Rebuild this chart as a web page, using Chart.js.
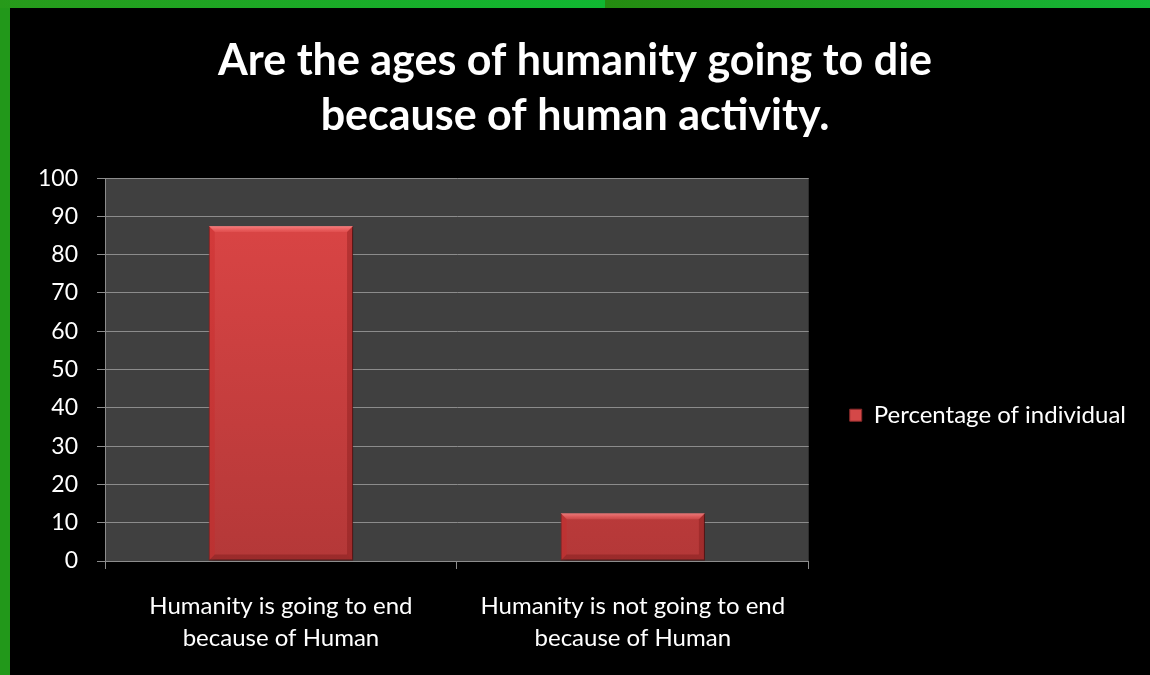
<!DOCTYPE html>
<html>
<head>
<meta charset="utf-8">
<script src="https://cdn.jsdelivr.net/npm/chart.js@4/dist/chart.umd.min.js"></script>
<style>
  html, body { margin: 0; padding: 0; background: #000; width: 1150px; height: 675px; overflow: hidden; }
  #wrap { position: absolute; left: 0; top: 0; width: 1150px; height: 675px; }
  .bl { position: absolute; left: 0; top: 0; width: 10px; height: 675px; background: #22981a; }
  .bt1 { position: absolute; left: 0; top: 0; width: 605px; height: 8px; background: linear-gradient(to right, #279a1a, #10b832); }
  .bt2 { position: absolute; left: 605px; top: 0; width: 545px; height: 8px; background: linear-gradient(to right, #258b10, #14b838); }
</style>
</head>
<body>
<div id="wrap"><canvas id="c" width="1150" height="675"></canvas></div>
<div class="bl"></div><div class="bt1"></div><div class="bt2"></div>
<script>
const titleLines = ["Are the ages of humanity going to die", "because of human activity."];
const categories = [
  ["Humanity is going to end", "because of Human"],
  ["Humanity is not going to end", "because of Human"]
];
const seriesName = "Percentage of individual";
const seriesValues = [87.5, 12.5];
const yTicks = { min: 0, max: 100, step: 10 };

const FONT = "Lato, 'Open Sans', sans-serif";

const plotBg = {
  id: 'plotBg',
  beforeDraw(chart) {
    const { ctx, chartArea: a } = chart;
    ctx.save();
    ctx.fillStyle = '#404040';
    ctx.fillRect(a.left, a.top, a.right - a.left, a.bottom - a.top);
    ctx.restore();
  }
};

// let the right-hand legend keep its natural width (Chart.js caps side boxes at 1/4 of the width)
const legendWidthFix = {
  id: 'legendWidthFix',
  afterInit(chart) {
    const lg = chart.legend;
    if (!lg || lg._wfix) return;
    const orig = lg.fit;
    lg.fit = function () {
      orig.call(this);
      if (!this.isHorizontal() && this.legendHitBoxes && this.legendHitBoxes.length) {
        const maxItem = Math.max(...this.legendHitBoxes.map(h => h.width));
        this.width = this.options.labels.padding + maxItem + 10;
      }
    };
    lg._wfix = true;
  }
};

const barShadow = {
  id: 'barShadow',
  beforeDatasetsDraw(chart) {
    const ctx = chart.ctx;
    ctx.save();
    ctx.shadowColor = 'rgba(0,0,0,0.55)';
    ctx.shadowBlur = 5;
    ctx.shadowOffsetX = 2;
    ctx.shadowOffsetY = 1;
  },
  afterDatasetsDraw(chart) {
    const ctx = chart.ctx;
    ctx.restore();
    const meta = chart.getDatasetMeta(0);
    meta.data.forEach(el => {
      const { x, y, base, width } = el.getProps(['x', 'y', 'base', 'width'], true);
      const l = x - width / 2, r = x + width / 2, t = y, b = base;
      const bv = 6;
      ctx.save();
      ctx.beginPath();
      ctx.moveTo(l, t); ctx.lineTo(r, t); ctx.lineTo(r - bv, t + bv); ctx.lineTo(l + bv, t + bv); ctx.closePath();
      const g = ctx.createLinearGradient(0, t, 0, t + bv);
      g.addColorStop(0, 'rgba(255,140,140,0.85)');
      g.addColorStop(1, 'rgba(240,100,100,0.35)');
      ctx.fillStyle = g; ctx.fill();
      ctx.beginPath();
      ctx.moveTo(l, t); ctx.lineTo(l + bv, t + bv); ctx.lineTo(l + bv, b - bv); ctx.lineTo(l, b); ctx.closePath();
      ctx.fillStyle = 'rgba(200,40,40,0.35)'; ctx.fill();
      ctx.beginPath();
      ctx.moveTo(r, t); ctx.lineTo(r - bv, t + bv); ctx.lineTo(r - bv, b - bv); ctx.lineTo(r, b); ctx.closePath();
      ctx.fillStyle = 'rgba(120,20,20,0.35)'; ctx.fill();
      ctx.beginPath();
      ctx.moveTo(l, b); ctx.lineTo(r, b); ctx.lineTo(r - bv, b - bv); ctx.lineTo(l + bv, b - bv); ctx.closePath();
      ctx.fillStyle = 'rgba(110,20,20,0.35)'; ctx.fill();
      ctx.restore();
    });
  }
};

new Chart(document.getElementById('c'), {
  type: 'bar',
  data: {
    labels: categories,
    datasets: [{
      label: seriesName,
      data: seriesValues,
      backgroundColor(context) {
        const chart = context.chart;
        const a = chart.chartArea;
        if (!a) return '#cc4040';
        const g = chart.ctx.createLinearGradient(0, a.top, 0, a.bottom);
        g.addColorStop(0, '#de4646');
        g.addColorStop(1, '#b43838');
        return g;
      },
      borderColor: 'rgba(120,25,25,0.7)',
      borderWidth: 1,
      borderSkipped: false,
      categoryPercentage: 1.0,
      barPercentage: 0.41
    }]
  },
  options: {
    responsive: false,
    animation: false,
    devicePixelRatio: 1,
    layout: { padding: { left: 14, right: 14, top: 0, bottom: 0 } },
    plugins: {
      title: {
        display: true,
        text: titleLines,
        color: '#ffffff',
        font: { family: FONT, size: 43, weight: 'bold', lineHeight: 1.28 },
        padding: { top: 34, bottom: 34 }
      },
      legend: {
        position: 'right',
        align: 'center',
        title: { display: true, text: ' ', padding: { top: 0, bottom: 141 } },
        labels: {
          color: '#ffffff',
          font: { family: FONT, size: 24 },
          boxWidth: 12,
          boxHeight: 12,
          padding: 41,
          generateLabels(chart) {
            return [{
              text: seriesName,
              fillStyle: '#d44848',
              strokeStyle: '#8a2a2a',
              lineWidth: 1,
              fontColor: '#ffffff',
              datasetIndex: 0
            }];
          }
        }
      },
      tooltip: { enabled: false }
    },
    scales: {
      x: {
        grid: { drawOnChartArea: false, drawTicks: true, tickLength: 8, color: '#8c8c8c', lineWidth: 1 },
        border: { color: '#8c8c8c', width: 1 },
        ticks: { color: '#ffffff', font: { family: FONT, size: 24, lineHeight: 1.33 }, padding: 21, maxRotation: 0, autoSkip: false },
        afterFit(scale) { scale.height = 114; }
      },
      y: {
        min: yTicks.min,
        max: yTicks.max,
        ticks: { stepSize: yTicks.step, color: '#ffffff', font: { family: FONT, size: 23 }, padding: 19 },
        grid: { color: '#8c8c8c', lineWidth: 1, tickLength: 8, drawTicks: true },
        border: { color: '#8c8c8c', width: 1 },
        afterFit(scale) { scale.width = 91; }
      }
    }
  },
  plugins: [plotBg, legendWidthFix, barShadow]
});
</script>
</body>
</html>
